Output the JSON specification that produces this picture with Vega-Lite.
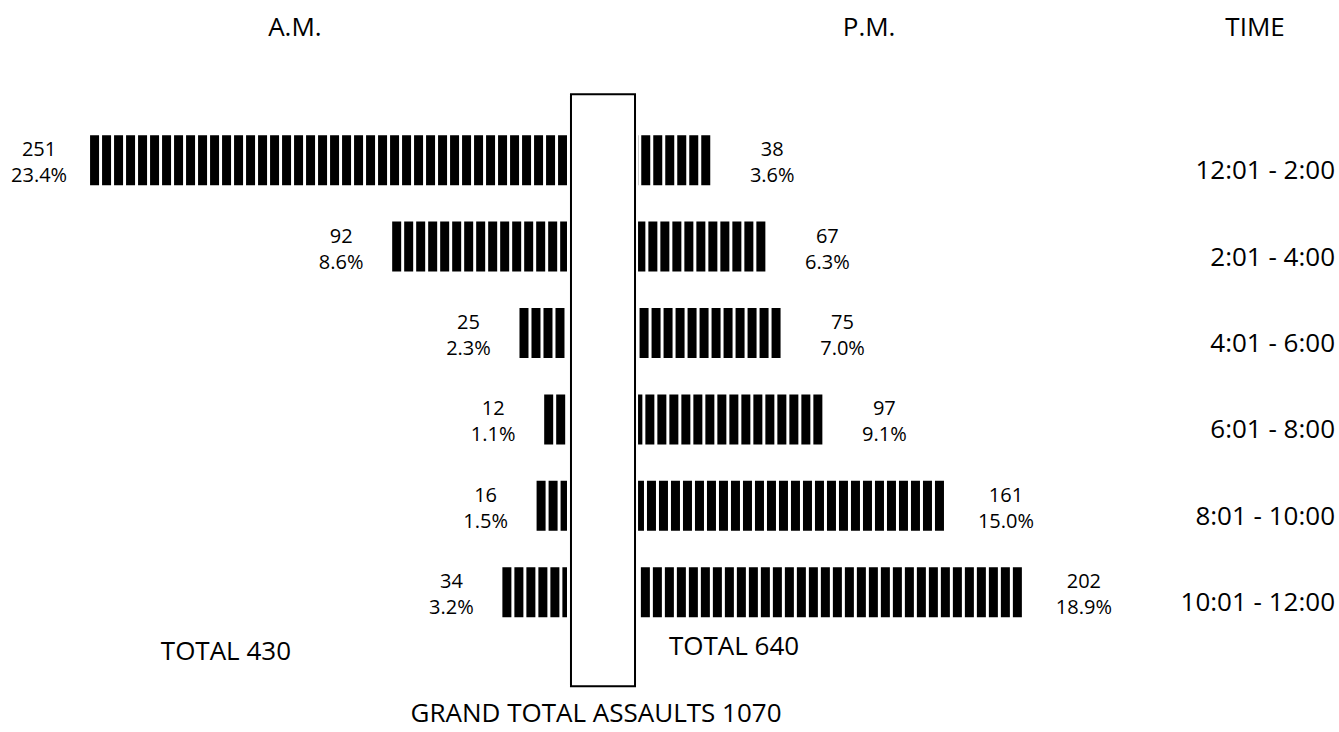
{
  "$schema": "https://vega.github.io/schema/vega-lite/v6.json",
  "width": 1339,
  "height": 518.4,
  "autosize": {"type": "none"},
  "padding": {"top": 117, "bottom": 96.6, "left": 0, "right": 0},
  "background": "white",
  "config": {"view": {"stroke": null}, "text": {"font": "Open Sans", "color": "black"}},
  "datasets": {
    "bars": [
      {"time": "12:01 - 2:00", "period": "A.M.", "count": 251, "pct": "23.4%"},
      {"time": "2:01 - 4:00", "period": "A.M.", "count": 92, "pct": "8.6%"},
      {"time": "4:01 - 6:00", "period": "A.M.", "count": 25, "pct": "2.3%"},
      {"time": "6:01 - 8:00", "period": "A.M.", "count": 12, "pct": "1.1%"},
      {"time": "8:01 - 10:00", "period": "A.M.", "count": 16, "pct": "1.5%"},
      {"time": "10:01 - 12:00", "period": "A.M.", "count": 34, "pct": "3.2%"},
      {"time": "12:01 - 2:00", "period": "P.M.", "count": 38, "pct": "3.6%"},
      {"time": "2:01 - 4:00", "period": "P.M.", "count": 67, "pct": "6.3%"},
      {"time": "4:01 - 6:00", "period": "P.M.", "count": 75, "pct": "7.0%"},
      {"time": "6:01 - 8:00", "period": "P.M.", "count": 97, "pct": "9.1%"},
      {"time": "8:01 - 10:00", "period": "P.M.", "count": 161, "pct": "15.0%"},
      {"time": "10:01 - 12:00", "period": "P.M.", "count": 202, "pct": "18.9%"}
    ]
  },
  "data": {"name": "bars"},
  "resolve": {"scale": {"x": "independent"}},
  "layer": [
    {
      "layer": [
        {
          "transform": [{"filter": "datum.period === 'A.M.'"}],
          "mark": {"type": "rule", "strokeWidth": 50, "strokeDash": [9, 3], "strokeCap": "butt", "color": "black"},
          "encoding": {
            "y": {"field": "time", "type": "nominal", "axis": null, "scale": {"type": "band", "domain": ["12:01 - 2:00", "2:01 - 4:00", "4:01 - 6:00", "6:01 - 8:00", "8:01 - 10:00", "10:01 - 12:00"], "paddingInner": 0, "paddingOuter": 0}},
            "x": {"field": "count", "type": "quantitative", "axis": null, "scale": {"domain": [-406.3, 298.4], "reverse": true, "nice": false, "zero": false}},
            "x2": {"datum": 0}
          }
        },
        {
          "transform": [{"filter": "datum.period === 'A.M.'"}],
          "mark": {"type": "text", "align": "center", "baseline": "middle", "dx": -51, "dy": -10, "fontSize": 20},
          "encoding": {
            "y": {"field": "time", "type": "nominal", "axis": null},
            "x": {"field": "count", "type": "quantitative", "axis": null},
            "text": {"field": "count", "type": "quantitative"}
          }
        },
        {
          "transform": [{"filter": "datum.period === 'A.M.'"}],
          "mark": {"type": "text", "align": "center", "baseline": "middle", "dx": -51, "dy": 16, "fontSize": 20},
          "encoding": {
            "y": {"field": "time", "type": "nominal", "axis": null},
            "x": {"field": "count", "type": "quantitative", "axis": null},
            "text": {"field": "pct", "type": "nominal"}
          }
        },
        {
          "data": {"values": [{}]},
          "mark": {"type": "text", "text": "A.M.", "align": "center", "baseline": "middle", "dy": -132, "fontSize": 26},
          "encoding": {
            "y": {"datum": "12:01 - 2:00", "type": "nominal", "axis": null},
            "x": {"datum": 143.2, "type": "quantitative", "axis": null}
          }
        },
        {
          "data": {"values": [{}]},
          "mark": {"type": "text", "text": "TOTAL 430", "align": "center", "baseline": "middle", "dy": 60, "fontSize": 26},
          "encoding": {
            "y": {"datum": "10:01 - 12:00", "type": "nominal", "axis": null},
            "x": {"datum": 179.5, "type": "quantitative", "axis": null}
          }
        }
      ]
    },
    {
      "layer": [
        {
          "transform": [{"filter": "datum.period === 'P.M.'"}],
          "mark": {"type": "rule", "strokeWidth": 50, "strokeDash": [9, 3], "strokeCap": "butt", "color": "black"},
          "encoding": {
            "y": {"field": "time", "type": "nominal", "axis": null},
            "x": {"field": "count", "type": "quantitative", "axis": null, "scale": {"domain": [-335.8, 368.9], "nice": false, "zero": false}},
            "x2": {"datum": 0}
          }
        },
        {
          "transform": [{"filter": "datum.period === 'P.M.'"}],
          "mark": {"type": "text", "align": "center", "baseline": "middle", "dx": 62, "dy": -10, "fontSize": 20},
          "encoding": {
            "y": {"field": "time", "type": "nominal", "axis": null},
            "x": {"field": "count", "type": "quantitative", "axis": null},
            "text": {"field": "count", "type": "quantitative"}
          }
        },
        {
          "transform": [{"filter": "datum.period === 'P.M.'"}],
          "mark": {"type": "text", "align": "center", "baseline": "middle", "dx": 62, "dy": 16, "fontSize": 20},
          "encoding": {
            "y": {"field": "time", "type": "nominal", "axis": null},
            "x": {"field": "count", "type": "quantitative", "axis": null},
            "text": {"field": "pct", "type": "nominal"}
          }
        },
        {
          "transform": [{"filter": "datum.period === 'P.M.'"}],
          "mark": {"type": "text", "align": "right", "baseline": "middle", "dy": 11, "fontSize": 26},
          "encoding": {
            "y": {"field": "time", "type": "nominal", "axis": null},
            "x": {"datum": 366.8, "type": "quantitative", "axis": null},
            "text": {"field": "time", "type": "nominal"}
          }
        },
        {
          "data": {"values": [{}]},
          "mark": {"type": "rect", "fill": "white", "stroke": "black", "strokeWidth": 2, "yOffset": -66, "y2Offset": 94},
          "encoding": {
            "y": {"datum": "12:01 - 2:00", "type": "nominal", "axis": null},
            "y2": {"datum": "10:01 - 12:00"},
            "x": {"datum": -35.3, "type": "quantitative", "axis": null},
            "x2": {"datum": -1.6}
          }
        },
        {
          "data": {"values": [{}]},
          "mark": {"type": "text", "text": "P.M.", "align": "center", "baseline": "middle", "dy": -132, "fontSize": 26},
          "encoding": {
            "y": {"datum": "12:01 - 2:00", "type": "nominal", "axis": null},
            "x": {"datum": 121.6, "type": "quantitative", "axis": null}
          }
        },
        {
          "data": {"values": [{}]},
          "mark": {"type": "text", "text": "TIME", "align": "center", "baseline": "middle", "dy": -132, "fontSize": 26},
          "encoding": {
            "y": {"datum": "12:01 - 2:00", "type": "nominal", "axis": null},
            "x": {"datum": 324.7, "type": "quantitative", "axis": null}
          }
        },
        {
          "data": {"values": [{}]},
          "mark": {"type": "text", "text": "TOTAL 640", "align": "center", "baseline": "middle", "dy": 55, "fontSize": 26},
          "encoding": {
            "y": {"datum": "10:01 - 12:00", "type": "nominal", "axis": null},
            "x": {"datum": 50.5, "type": "quantitative", "axis": null}
          }
        },
        {
          "data": {"values": [{}]},
          "mark": {"type": "text", "text": "GRAND TOTAL ASSAULTS 1070", "align": "center", "baseline": "middle", "dy": 122, "fontSize": 26},
          "encoding": {
            "y": {"datum": "10:01 - 12:00", "type": "nominal", "axis": null},
            "x": {"datum": -22.1, "type": "quantitative", "axis": null}
          }
        }
      ]
    }
  ]
}
